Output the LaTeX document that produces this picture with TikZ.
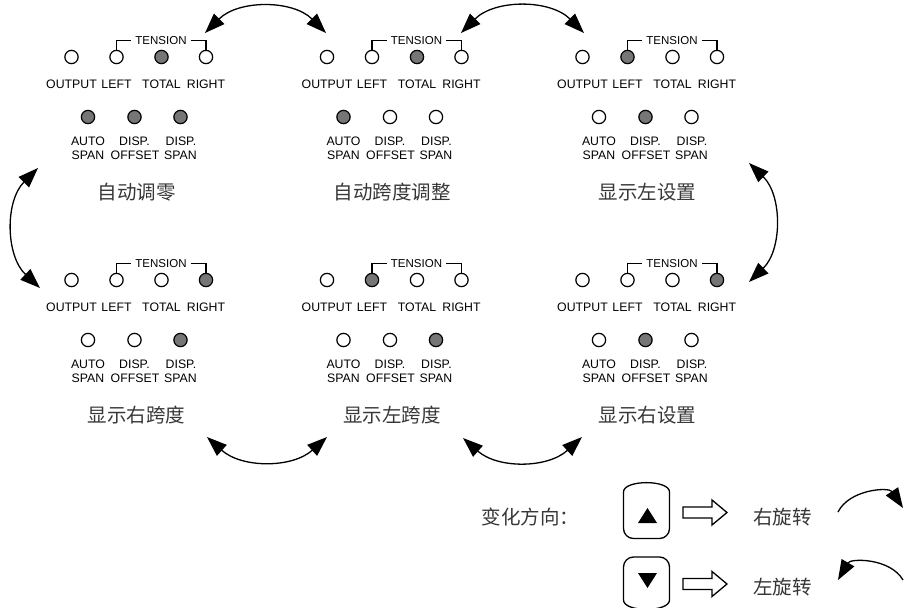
\documentclass[tikz,border=0pt]{standalone}
\usepackage{fontspec}
\setmainfont{Liberation Sans}
\newfontfamily\cjk{Noto Sans CJK SC}
\usetikzlibrary{arrows.meta}
\definecolor{ledgray}{RGB}{118,118,118}
\definecolor{titlegray}{RGB}{55,55,55}
\begin{document}
\begin{tikzpicture}[x=1pt,y=-1pt,
  led/.style={circle,draw,line width=1.2pt,minimum size=13.3pt,inner sep=0pt},
  ledon/.style={led,fill=ledgray},
  ledoff/.style={led,fill=white},
  lbl/.style={font=\fontsize{12.3}{13}\selectfont,inner sep=0pt},
  tens/.style={font=\fontsize{11.5}{12}\selectfont,inner sep=0pt,inner xsep=4pt},
  br/.style={line width=1.1pt},
  title/.style={font=\cjk\fontsize{19.5}{20}\selectfont,text=titlegray,inner sep=0pt},
  legtxt/.style={font=\cjk\fontsize{19.5}{20}\selectfont,text=titlegray,inner sep=0pt,anchor=west},
  dbl/.style={line width=1.3pt,{Triangle[length=20pt,width=14.5pt]}-{Triangle[length=20pt,width=14.5pt]}},
  sgl/.style={line width=1.3pt,-{Triangle[length=20pt,width=14.5pt]}},
  btn/.style={line width=1.3pt,rounded corners=10pt},
  hollow/.style={line width=1.3pt,line join=miter},
]
\useasboundingbox (0,0) rectangle (906,608);

\foreach \p/\ox/\oy/\sa/\sb/\sc/\sd/\se/\sf/\sg/\ttl in {
 1/0/0/ledoff/ledoff/ledon/ledoff/ledon/ledon/ledon/自动调零,
 2/255.5/0/ledoff/ledoff/ledon/ledoff/ledon/ledoff/ledoff/自动跨度调整,
 3/511/0/ledoff/ledon/ledoff/ledoff/ledoff/ledon/ledoff/显示左设置,
 4/0/223/ledoff/ledoff/ledoff/ledon/ledoff/ledoff/ledon/显示右跨度,
 5/255.5/223/ledoff/ledon/ledoff/ledoff/ledoff/ledoff/ledon/显示左跨度,
 6/511/223/ledoff/ledoff/ledoff/ledon/ledoff/ledon/ledoff/显示右设置}{
 \begin{scope}[shift={(\ox,\oy)}]
  \node[\sa] (p\p-o) at (71.5,57) {};
  \node[\sb] (p\p-l) at (116.5,57) {};
  \node[\sc] (p\p-t) at (161.5,57) {};
  \node[\sd] (p\p-r) at (206,57) {};
  \node[tens] (p\p-tn) at (161,40.5) {TENSION};
  \draw[br] (p\p-l.north) |- (p\p-tn.west);
  \draw[br] (p\p-tn.east) -| (p\p-r.north);
  \node[lbl] (p\p-lo) at (71.5,84) {OUTPUT};
  \node[lbl] (p\p-ll) at (116.5,84) {LEFT};
  \node[lbl] (p\p-lt) at (161.5,84) {TOTAL};
  \node[lbl] (p\p-lr) at (206,84) {RIGHT};
  \node[\se] (p\p-a) at (88,117) {};
  \node[\sf] (p\p-b) at (134.5,117) {};
  \node[\sg] (p\p-c) at (180.5,117) {};
  \node[lbl] (p\p-a1) at (88,141.5) {AUTO};
  \node[lbl] (p\p-a2) at (88,155) {SPAN};
  \node[lbl] (p\p-b1) at (134.5,141.5) {DISP.};
  \node[lbl] (p\p-b2) at (135,155) {OFFSET};
  \node[lbl] (p\p-c1) at (181,141.5) {DISP.};
  \node[lbl] (p\p-c2) at (180.5,155) {SPAN};
  \node[title] (p\p-ti) at (136.5,192) {\ttl};
 \end{scope}
}

% cycle arrows
\coordinate (a1s) at (205,33);  \coordinate (a1e) at (326,33);
\coordinate (a2s) at (461,33);  \coordinate (a2e) at (584,33);
\coordinate (a3s) at (749,163); \coordinate (a3e) at (749,282);
\coordinate (a4s) at (38,168);  \coordinate (a4e) at (40,288);
\coordinate (a5s) at (207,437); \coordinate (a5e) at (327,437);
\coordinate (a6s) at (463,438); \coordinate (a6e) at (582,437);
\draw[dbl] (a1s) to[bend left=45] (a1e);
\draw[dbl] (a2s) to[bend left=45] (a2e);
\draw[dbl] (a3s) to[bend left=46] (a3e);
\draw[dbl] (a4s) to[bend right=46] (a4e);
\draw[dbl] (a5s) to[bend right=42] (a5e);
\draw[dbl] (a6s) to[bend right=42] (a6e);

% legend
\node[legtxt] (leg) at (481.5,517) {变化方向：};
\draw[btn] (623.5,502) .. controls (623.5,479.5) and (669.5,479.5) .. (669.5,502)
   -- (669.5,538.5) -- (623.5,538.5) -- cycle;
\fill (638,523) -- (657,523) -- (647.5,508) -- cycle;
\draw[btn] (623.5,590) .. controls (623.5,612.5) and (669.5,612.5) .. (669.5,590)
   -- (669.5,557) -- (623.5,557) -- cycle;
\fill (638,573) -- (657,573) -- (647.5,588) -- cycle;

\draw[hollow] (683,507) -- (712,507) -- (712,500) -- (727,512.5) -- (712,525) -- (712,518) -- (683,518) -- cycle;
\draw[hollow] (683,578.5) -- (712,578.5) -- (712,571.5) -- (727,584) -- (712,596.5) -- (712,589.5) -- (683,589.5) -- cycle;

\node[legtxt] (rr) at (753,517) {右旋转};
\node[legtxt] (rl) at (753,587) {左旋转};

\coordinate (r1s) at (838,512); \coordinate (r1e) at (903,508);
\coordinate (r2s) at (903,580); \coordinate (r2e) at (838,580);
\draw[sgl] (r1s) to[bend left=60] (r1e);
\draw[sgl] (r2s) to[bend right=60] (r2e);
\end{tikzpicture}
\end{document}
